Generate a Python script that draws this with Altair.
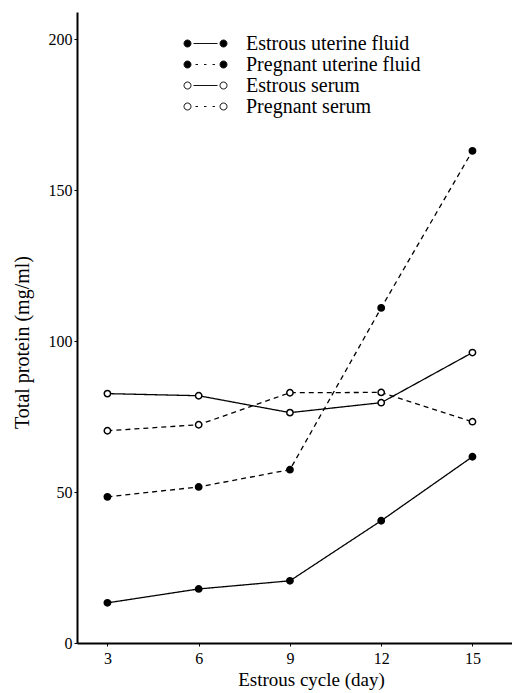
import altair as alt
import pandas as pd

days = [3, 6, 9, 12, 15]
series_names = ["Estrous uterine fluid", "Pregnant uterine fluid", "Estrous serum", "Pregnant serum"]
estrous_fluid = [13.3, 17.9, 20.6, 40.5, 61.7]
pregnant_fluid = [48.4, 51.7, 57.4, 111.0, 163.0]
estrous_serum = [82.6, 81.9, 76.3, 79.6, 96.2]
pregnant_serum = [70.3, 72.3, 82.9, 83.0, 73.3]

rows = []
for name, vals in zip(series_names, [estrous_fluid, pregnant_fluid, estrous_serum, pregnant_serum]):
    for d, v in zip(days, vals):
        rows.append({"day": d, "protein": v, "series": name, "state": name.split(" ")[0]})
df = pd.DataFrame(rows)

FONT = "Liberation Serif"

circles = ("M-2.15,0 a0.35,0.35 0 1,0 0.7,0 a0.35,0.35 0 1,0 -0.7,0 "
           "M1.45,0 a0.35,0.35 0 1,0 0.7,0 a0.35,0.35 0 1,0 -0.7,0 ")
solid_path = circles + "M-1.2,0 L1.2,0"
dotted_path = circles + "M-1.0,0 L-0.75,0 M-0.15,0 L0.1,0 M0.7,0 L0.95,0"

x = alt.X("day:Q", scale=alt.Scale(domain=[2, 16.3], nice=False, zero=False),
          axis=alt.Axis(values=days, title="Estrous cycle (day)", grid=False,
                        tickSize=3, labelFontSize=16, titleFontSize=19,
                        labelFont=FONT, titleFont=FONT, titleFontWeight="normal",
                        labelColor="black", titleColor="black", domainColor="black",
                        tickColor="black", domainWidth=2, labelPadding=4, titlePadding=4,
                        titleX=234))
y = alt.Y("protein:Q", scale=alt.Scale(domain=[0, 209], nice=False),
          axis=alt.Axis(values=[0, 50, 100, 150, 200], title="Total protein (mg/ml)",
                        grid=False, tickSize=3, labelFontSize=16, titleFontSize=20,
                        labelFont=FONT, titleFont=FONT, titleFontWeight="normal",
                        labelColor="black", titleColor="black", domainColor="black",
                        tickColor="black", domainWidth=2, labelPadding=2, titlePadding=16,
                        titleY=330))

fill_scale = alt.Scale(domain=series_names, range=["black", "black", "white", "white"])

lines = alt.Chart(df).mark_line(color="black", strokeWidth=1.3).encode(
    x=x, y=y,
    detail="series:N",
    strokeDash=alt.StrokeDash(
        "state:N",
        scale=alt.Scale(domain=["Estrous", "Pregnant"], range=[[1, 0], [5, 4]]),
        legend=None,
    ),
)

points = alt.Chart(df).mark_point(shape="circle", size=40, strokeWidth=1.5, opacity=1,
                                  stroke="black").encode(
    x=x, y=y,
    fill=alt.Fill("series:N", scale=fill_scale, title=None),
)

legend_layer = alt.Chart(df).transform_filter("datum.day < 0").mark_point(
    strokeWidth=1, opacity=1
).encode(
    x=x, y=y,
    fill=alt.Fill("series:N", scale=fill_scale, title=None),
    stroke=alt.Stroke("series:N", title=None,
                      scale=alt.Scale(domain=series_names,
                                      range=["#111", "#111", "#111", "#111"])),
    shape=alt.Shape("series:N", title=None,
                    scale=alt.Scale(domain=series_names,
                                    range=[solid_path, dotted_path, solid_path, dotted_path])),
)

chart = (lines + points + legend_layer).properties(
    width=435, height=631,
    autosize=alt.AutoSizeParams(type="none"),
    padding={"left": 77, "top": 12, "right": 0, "bottom": 50},
    background="white",
).configure_view(stroke=None).configure_legend(
    orient="none", legendX=118, legendY=21,
    symbolSize=400, symbolStrokeWidth=1, symbolStrokeColor="#222",
    symbolOpacity=1, labelFont=FONT, labelFontSize=20,
    labelColor="black", labelOffset=30, rowPadding=0, labelLimit=400,
)

chart.save("out.html", embed_options={"renderer": "svg", "actions": False})
